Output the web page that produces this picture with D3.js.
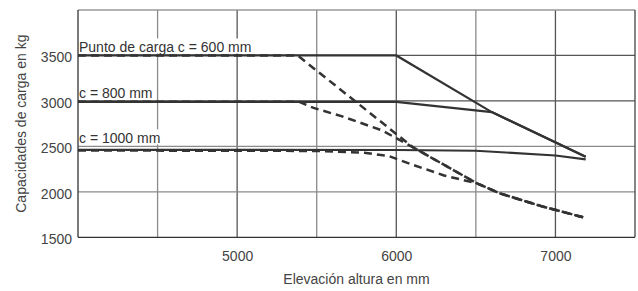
<!DOCTYPE html>
<html><head><meta charset="utf-8">
<script src="https://cdn.jsdelivr.net/npm/d3@7"></script>
<style>
body{margin:0;background:#fff;}
text{font-family:"Liberation Sans",Arial,sans-serif;}
</style></head>
<body><svg id="c" width="638" height="291"></svg>
<script>
// ---- data ----
const xDomain = [4000, 7500];
const yDomain = [1500, 4000];
const xTicks = [5000, 6000, 7000];
const xGrid = [4500, 5000, 5500, 6000, 6500, 7000];
const yTicks = [1500, 2000, 2500, 3000, 3500];
const yGrid = [2000, 2500, 3000, 3500];

const solid600X = [4000, 6000, 6600, 7190];
const solid600Y = [3500, 3500, 2877, 2385];
const solid800X = [4000, 6000, 6600, 7190];
const solid800Y = [2990, 2990, 2877, 2385];
const solid1000X = [4000, 6000, 6500, 7000, 7190];
const solid1000Y = [2462, 2460, 2452, 2400, 2357];

const dash600X = [4000, 5380, 6105, 6507, 6651, 6916, 7175];
const dash600Y = [3500, 3500, 2490, 2093, 1983, 1840, 1720];
const dash800X = [4000, 5390, 5480, 5660, 5910, 6105, 6507, 6651, 6916, 7175];
const dash800Y = [2990, 2990, 2923, 2830, 2676, 2490, 2093, 1983, 1840, 1720];
const dash1000X = [4000, 5500, 5800, 5950, 6100, 6300, 6507, 6651, 6916, 7175];
const dash1000Y = [2455, 2450, 2430, 2395, 2300, 2180, 2093, 1983, 1840, 1720];

const labels = [
  {text: "Punto de carga c = 600 mm", v: 3500},
  {text: "c = 800 mm", v: 3000},
  {text: "c = 1000 mm", v: 2500}
];
const xTitle = "Elevación altura en mm";
const yTitle = "Capacidades de carga en kg";

// ---- drawing ----
const svg = d3.select("#c");
const L = 78, R = 635, T = 10, B = 237.3;
const x = d3.scaleLinear().domain(xDomain).range([L, R]);
const y = d3.scaleLinear().domain(yDomain).range([B, T]);

// grid
svg.append("g").selectAll("line").data(xGrid).join("line")
  .attr("x1", d => x(d)).attr("x2", d => x(d)).attr("y1", T).attr("y2", B)
  .attr("stroke", d => d % 1000 === 0 ? "#555" : "#8a8a8a").attr("stroke-width", 1.3);
svg.append("g").selectAll("line").data(yGrid).join("line")
  .attr("x1", L).attr("x2", R).attr("y1", d => y(d)).attr("y2", d => y(d))
  .attr("stroke", d => d >= 3000 ? "#555" : "#8a8a8a").attr("stroke-width", 1.3);

// frame
svg.append("line").attr("x1", L).attr("x2", R).attr("y1", T).attr("y2", T).attr("stroke", "#999").attr("stroke-width", 1.3);
svg.append("line").attr("x1", L).attr("x2", L).attr("y1", T).attr("y2", B).attr("stroke", "#333").attr("stroke-width", 1.3);
svg.append("line").attr("x1", R).attr("x2", R).attr("y1", T).attr("y2", B).attr("stroke", "#444").attr("stroke-width", 1.3);
svg.append("line").attr("x1", L).attr("x2", R).attr("y1", B).attr("y2", B).attr("stroke", "#333").attr("stroke-width", 1.3);

// labels with white background
const lg = svg.append("g");
labels.forEach(l => {
  const g = lg.append("g");
  const r = g.append("rect").attr("fill", "#fff");
  const t = g.append("text").attr("x", L + 1).attr("y", y(l.v) - 3)
    .attr("font-size", 14).attr("fill", "#333").text(l.text);
  const bb = t.node().getBBox();
  r.attr("x", bb.x).attr("y", bb.y - 1).attr("width", bb.width + 3).attr("height", bb.height - 1);
});

// series
const line = d3.line().x(d => x(d[0])).y(d => y(d[1]));
const zip = (xs, ys) => xs.map((v, i) => [v, ys[i]]);
const series = [
  {d: zip(solid600X, solid600Y), dash: null},
  {d: zip(solid800X, solid800Y), dash: null},
  {d: zip(solid1000X, solid1000Y), dash: null},
  {d: zip(dash600X, dash600Y), dash: "8,5"},
  {d: zip(dash800X, dash800Y), dash: "8,5"},
  {d: zip(dash1000X, dash1000Y), dash: "8,5"}
];
svg.append("g").selectAll("path").data(series).join("path")
  .attr("d", s => line(s.d)).attr("fill", "none").attr("stroke", "#333")
  .attr("stroke-width", s => s.dash ? 2.5 : 2.2).attr("stroke-dasharray", s => s.dash);

// axes
const ya = svg.append("g").attr("transform", `translate(${L},0)`)
  .call(d3.axisLeft(y).tickValues(yTicks).tickSize(0).tickPadding(6).tickFormat(d3.format("d")));
ya.select(".domain").remove();
ya.selectAll("text").attr("font-size", 14).attr("fill", "#444").attr("dy", "0.45em")
  .attr("font-family", "Liberation Sans, Arial, sans-serif");

const xa = svg.append("g").attr("transform", `translate(0,${B})`)
  .call(d3.axisBottom(x).tickValues(xTicks).tickSize(0).tickPadding(13.5).tickFormat(d3.format("d")));
xa.select(".domain").remove();
xa.selectAll("text").attr("font-size", 14).attr("fill", "#444")
  .attr("font-family", "Liberation Sans, Arial, sans-serif");

svg.append("text").attr("x", (L + R) / 2).attr("y", 284).attr("text-anchor", "middle")
  .attr("font-size", 14).attr("fill", "#444").text(xTitle);
svg.append("text").attr("transform", `translate(26,${(T + B) / 2}) rotate(-90)`)
  .attr("text-anchor", "middle").attr("font-size", 14).attr("fill", "#444").text(yTitle);
</script></body></html>
